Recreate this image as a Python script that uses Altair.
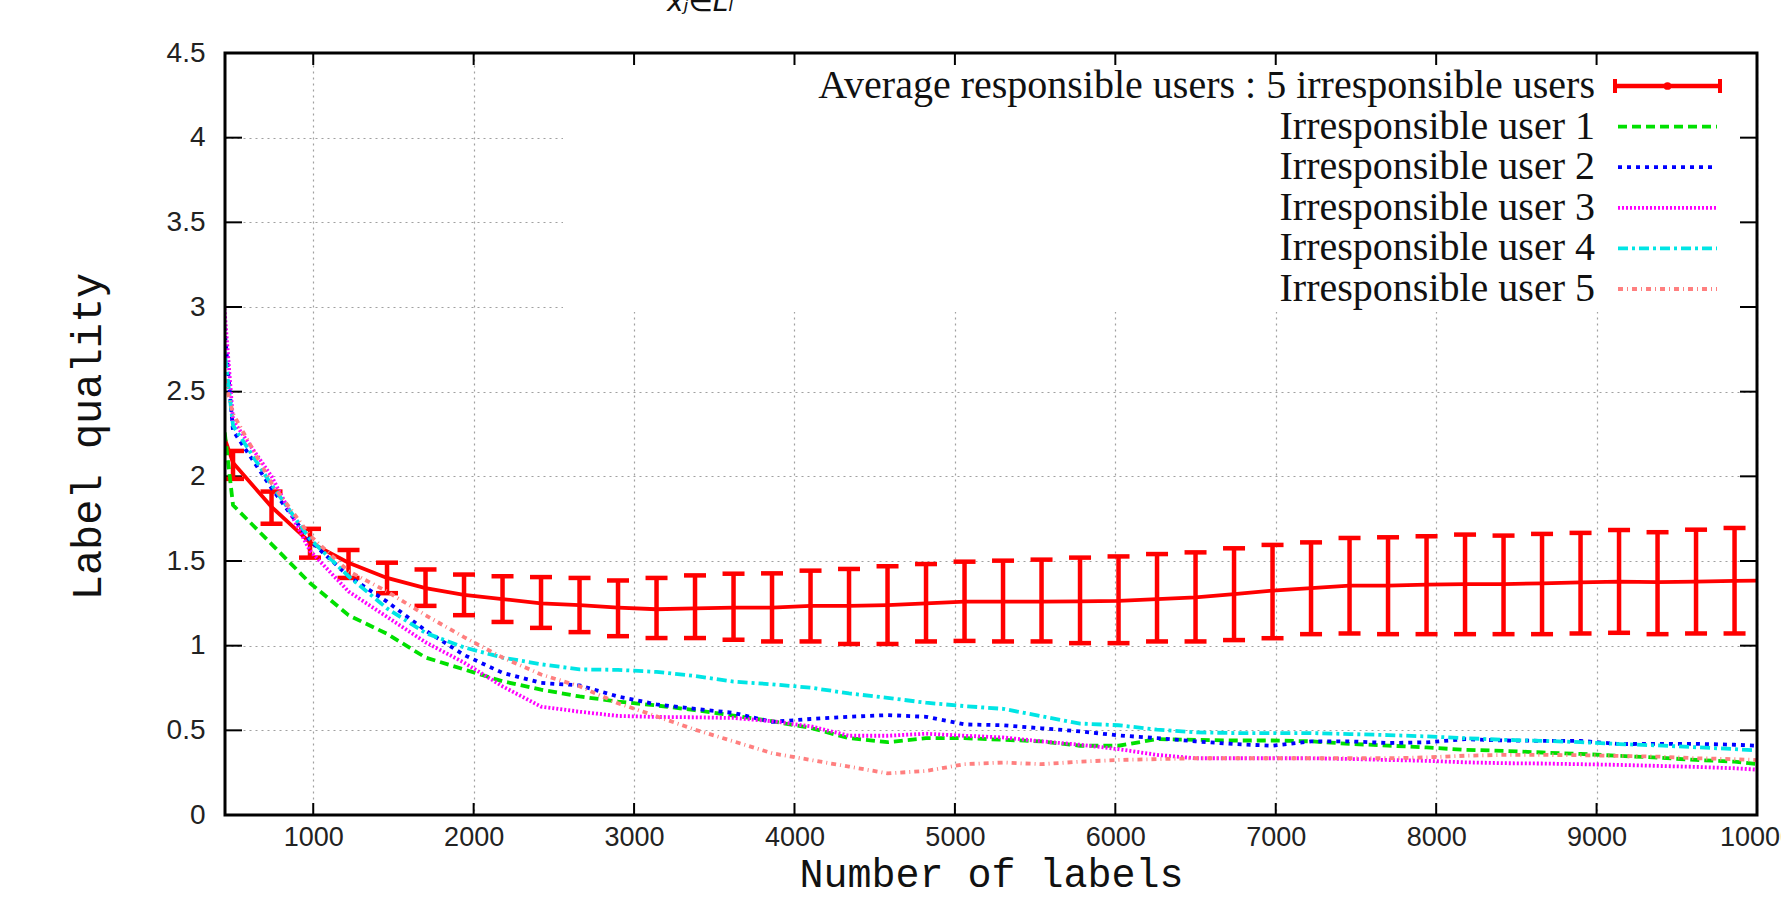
import altair as alt
import pandas as pd

# ---- data ----
num_labels = [260, 500, 740, 980, 1220, 1460, 1700, 1940, 2180, 2420, 2660, 2900, 3140, 3380,
              3620, 3860, 4100, 4340, 4580, 4820, 5060, 5300, 5540, 5780, 6020, 6260, 6500,
              6740, 6980, 7220, 7460, 7700, 7940, 8180, 8420, 8660, 8900, 9140, 9380, 9620,
              9860, 10100]
avg_mean = [2.75, 2.08, 1.82, 1.61, 1.49, 1.40, 1.34, 1.30, 1.275, 1.25, 1.24, 1.225, 1.215,
            1.22, 1.225, 1.225, 1.235, 1.235, 1.24, 1.25, 1.26, 1.26, 1.26, 1.262, 1.265, 1.275,
            1.285, 1.305, 1.325, 1.34, 1.355, 1.355, 1.36, 1.364, 1.364, 1.368, 1.374, 1.378,
            1.375, 1.378, 1.383, 1.385]
avg_high = [2.85, 2.15, 1.91, 1.69, 1.565, 1.49, 1.45, 1.42, 1.41, 1.405, 1.40, 1.385, 1.40,
            1.415, 1.425, 1.427, 1.443, 1.453, 1.469, 1.482, 1.496, 1.502, 1.508, 1.52, 1.527,
            1.541, 1.551, 1.575, 1.595, 1.61, 1.636, 1.64, 1.646, 1.656, 1.65, 1.66, 1.666,
            1.683, 1.67, 1.685, 1.695, 1.70]
avg_low = [2.6, 1.985, 1.72, 1.52, 1.40, 1.31, 1.235, 1.18, 1.14, 1.105, 1.08, 1.056, 1.045,
           1.045, 1.035, 1.025, 1.025, 1.01, 1.01, 1.025, 1.028, 1.025, 1.025, 1.015, 1.015,
           1.025, 1.025, 1.033, 1.044, 1.068, 1.072, 1.068, 1.068, 1.068, 1.068, 1.068, 1.072,
           1.076, 1.068, 1.072, 1.072, 1.072]
user1 = [3.82, 1.83, 1.60, 1.37, 1.18, 1.07, 0.93, 0.86, 0.79, 0.74, 0.70, 0.67, 0.647, 0.619,
         0.587, 0.554, 0.514, 0.454, 0.43, 0.454, 0.454, 0.444, 0.435, 0.409, 0.409, 0.448,
         0.444, 0.44, 0.44, 0.435, 0.42, 0.41, 0.399, 0.385, 0.379, 0.369, 0.361, 0.349, 0.339,
         0.325, 0.315, 0.29]
user2 = [5.0, 2.27, 1.93, 1.62, 1.41, 1.26, 1.09, 0.945, 0.84, 0.78, 0.765, 0.70, 0.653, 0.627,
         0.603, 0.55, 0.567, 0.58, 0.59, 0.58, 0.535, 0.53, 0.512, 0.494, 0.47, 0.454, 0.435,
         0.419, 0.409, 0.435, 0.435, 0.425, 0.429, 0.448, 0.44, 0.438, 0.438, 0.419, 0.42,
         0.42, 0.415, 0.405]
user3 = [5.3, 2.33, 2.00, 1.56, 1.32, 1.17, 1.02, 0.90, 0.76, 0.64, 0.61, 0.585, 0.579, 0.577,
         0.573, 0.554, 0.524, 0.468, 0.468, 0.48, 0.468, 0.458, 0.435, 0.415, 0.389, 0.355,
         0.335, 0.335, 0.335, 0.335, 0.331, 0.325, 0.32, 0.311, 0.306, 0.304, 0.30, 0.296,
         0.29, 0.284, 0.276, 0.262]
user4 = [4.3, 2.30, 1.95, 1.63, 1.41, 1.22, 1.075, 0.99, 0.93, 0.89, 0.86, 0.857, 0.845, 0.821,
         0.788, 0.772, 0.752, 0.718, 0.692, 0.663, 0.643, 0.627, 0.583, 0.54, 0.53, 0.504,
         0.488, 0.484, 0.484, 0.484, 0.478, 0.472, 0.464, 0.454, 0.444, 0.438, 0.43, 0.419,
         0.411, 0.40, 0.389, 0.375]
user5 = [3.3, 2.37, 1.96, 1.65, 1.44, 1.32, 1.18, 1.05, 0.93, 0.83, 0.76, 0.66, 0.583, 0.504,
         0.435, 0.365, 0.325, 0.286, 0.246, 0.26, 0.30, 0.31, 0.30, 0.315, 0.325, 0.33, 0.335,
         0.335, 0.335, 0.335, 0.335, 0.335, 0.34, 0.35, 0.355, 0.355, 0.353, 0.349, 0.345,
         0.335, 0.33, 0.32]

series_names = ["Average responsible users : 5 irresponsible users",
                "Irresponsible user 1", "Irresponsible user 2", "Irresponsible user 3",
                "Irresponsible user 4", "Irresponsible user 5"]
x_ticks = [1000, 2000, 3000, 4000, 5000, 6000, 7000, 8000, 9000, 10000]
y_ticks = [0, 0.5, 1, 1.5, 2, 2.5, 3, 3.5, 4, 4.5]
formula_fragment = "xⱼ∈Lₗ"

# ---- styles ----
colors = ["#ff0000", "#00e000", "#0000ff", "#ff00ff", "#00e5e5", "#ff7f7f"]
dashes = [None, [9, 5], [4, 5], [2, 2], [10, 4, 3, 4], [5, 4, 1, 4]]
W, H = 1532, 762
LW = 3.8

df = pd.DataFrame({"x": num_labels, "mean": avg_mean, "hi": avg_high, "lo": avg_low,
                   "u1": user1, "u2": user2, "u3": user3, "u4": user4, "u5": user5})
xt = pd.DataFrame({"t": x_ticks})
yt = pd.DataFrame({"t": y_ticks})
one = pd.DataFrame({"k": [0]})

xscale = alt.Scale(domain=[450, 10000], nice=False, zero=False)
yscale = alt.Scale(domain=[0, 4.5], nice=False, zero=False)

xaxis = alt.Axis(values=x_ticks, format="d", grid=True, gridColor="#a0a0a0",
                 gridDash=[2, 4], gridWidth=1.2, ticks=False, tickSize=0, domain=False,
                 labelFont="Liberation Sans", labelFontSize=27, labelColor="#222",
                 labelPadding=9, labelFlush=False, labelOverlap=False,
                 title="Number of labels", titleFont="Liberation Mono", titleFontSize=40,
                 titleFontWeight="normal", titleColor="#111", titleX=766, titleY=71,
                 titleAlign="center", titleBaseline="alphabetic")
yaxis = alt.Axis(values=y_ticks, format="~g", grid=True, gridColor="#a0a0a0",
                 gridDash=[2, 4], gridWidth=1.2, ticks=False, tickSize=0, domain=False,
                 labelFont="Liberation Sans", labelFontSize=28, labelColor="#222",
                 labelPadding=20, labelFlush=False, labelOverlap=False,
                 title="Label quality", titleFont="Liberation Mono", titleFontSize=42,
                 titleFontWeight="normal", titleColor="#111", titleAngle=270,
                 titleX=-125, titleY=383, titleAlign="center", titleBaseline="alphabetic")

X = alt.X("x:Q", scale=xscale, axis=xaxis)

layers = []

# opaque key box hiding the grid
layers.append(alt.Chart(one).mark_rect(color="white").encode(
    x=alt.value(338), x2=alt.value(W - 2), y=alt.value(2), y2=alt.value(259)))

# inward ticks on all four sides
tx = alt.X("t:Q", scale=xscale, axis=xaxis)
ty = alt.Y("t:Q", scale=yscale, axis=yaxis)
layers.append(alt.Chart(xt).mark_rule(color="black", strokeWidth=2).encode(
    x=tx, y=alt.value(H), y2=alt.value(H - 12)))
layers.append(alt.Chart(xt).mark_rule(color="black", strokeWidth=2).encode(
    x=tx, y=alt.value(0), y2=alt.value(12)))
layers.append(alt.Chart(yt).mark_rule(color="black", strokeWidth=2).encode(
    y=ty, x=alt.value(0), x2=alt.value(17)))
layers.append(alt.Chart(yt).mark_rule(color="black", strokeWidth=2).encode(
    y=ty, x=alt.value(W), x2=alt.value(W - 17)))

# red average line with error bars
layers.append(alt.Chart(df).mark_line(color=colors[0], strokeWidth=LW, clip=True).encode(
    x=X, y=alt.Y("mean:Q", scale=yscale, axis=yaxis)))
layers.append(alt.Chart(df).mark_rule(color=colors[0], strokeWidth=4.5, clip=True).encode(
    x=X, y=alt.Y("lo:Q", scale=yscale, axis=yaxis), y2="hi:Q"))
for fld in ["lo", "hi"]:
    layers.append(alt.Chart(df).mark_rule(color=colors[0], strokeWidth=4.5, clip=True,
                                          xOffset=-11, x2Offset=11).encode(
        x=X, x2="x:Q", y=alt.Y(f"{fld}:Q", scale=yscale, axis=yaxis)))

# irresponsible users
for i, fld in enumerate(["u1", "u2", "u3", "u4", "u5"]):
    layers.append(alt.Chart(df).mark_line(color=colors[i + 1], strokeDash=dashes[i + 1],
                                          strokeWidth=LW, clip=True).encode(
        x=X, y=alt.Y(f"{fld}:Q", scale=yscale, axis=yaxis)))

# border
layers.append(alt.Chart(one).mark_rect(filled=False, stroke="black", strokeWidth=3).encode(
    x=alt.value(0), x2=alt.value(W), y=alt.value(0), y2=alt.value(H)))

# key
row0, row_step = 33, 40.6
sx0, sx1 = 1390, 1495
for i, name in enumerate(series_names):
    yy = row0 + row_step * i
    layers.append(alt.Chart(pd.DataFrame({"label": [name]})).mark_text(
        align="right", baseline="middle", font="Liberation Serif", fontSize=40,
        color="#111").encode(text="label:N", x=alt.value(1370), y=alt.value(yy)))
    if i == 0:
        layers.append(alt.Chart(one).mark_rule(color=colors[0], strokeWidth=4.5).encode(
            x=alt.value(sx0), x2=alt.value(sx1), y=alt.value(yy)))
        for sx in [sx0, sx1]:
            layers.append(alt.Chart(one).mark_rule(color=colors[0], strokeWidth=4).encode(
                x=alt.value(sx), y=alt.value(yy - 7), y2=alt.value(yy + 7)))
        layers.append(alt.Chart(one).mark_point(color=colors[0], filled=True, size=60,
                                                opacity=1).encode(
            x=alt.value((sx0 + sx1) / 2), y=alt.value(yy)))
    else:
        layers.append(alt.Chart(one).mark_rule(color=colors[i], strokeDash=dashes[i],
                                               strokeWidth=LW).encode(
            x=alt.value(sx0 + 3), x2=alt.value(sx1 - 3), y=alt.value(yy)))

# cut-off formula fragment at the very top
layers.append(alt.Chart(pd.DataFrame({"f": [formula_fragment]})).mark_text(
    align="center", baseline="alphabetic", font="DejaVu Sans", fontSize=28,
    fontStyle="italic", color="#111").encode(text="f:N", x=alt.value(475), y=alt.value(-42)))

chart = alt.layer(*layers).properties(
    width=W, height=H,
    autosize=alt.AutoSizeParams(type="none"),
    padding={"left": 225, "top": 53, "right": 24, "bottom": 83},
    background="white",
).configure_view(strokeWidth=0)

chart.save("out.html", embed_options={"renderer": "svg", "actions": False})
